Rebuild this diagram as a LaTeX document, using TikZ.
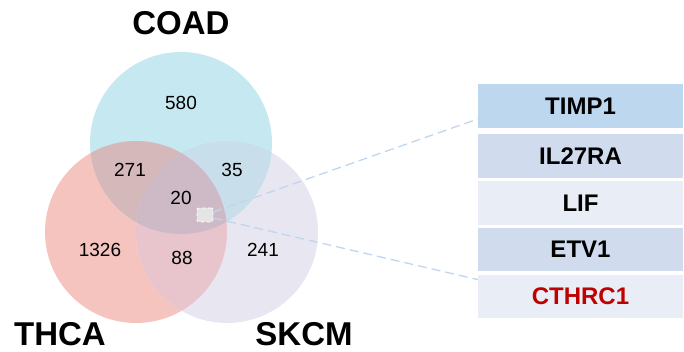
\documentclass[tikz,border=0pt]{standalone}
\usepackage{fontspec}
\setmainfont{Liberation Sans}
\usetikzlibrary{positioning}

\definecolor{coadblue}{RGB}{198,232,240}
\definecolor{thcared}{RGB}{245,196,190}
\definecolor{skcmgray}{RGB}{232,230,240}
\definecolor{coadthca}{RGB}{212,184,186}
\definecolor{coadskcm}{RGB}{200,222,234}
\definecolor{thcaskcm}{RGB}{232,196,205}
\definecolor{allthree}{RGB}{206,186,198}
\definecolor{genetop}{RGB}{189,215,238}
\definecolor{genemid}{RGB}{208,220,238}
\definecolor{genelow}{RGB}{233,237,245}
\definecolor{linkblue}{RGB}{192,214,238}
\definecolor{genered}{RGB}{192,0,0}

\tikzset{
  venn/.style={circle, minimum size=182pt, inner sep=0pt},
  count/.style={anchor=base, font=\fontsize{19}{19}\selectfont},
  setlabel/.style={anchor=base, font=\fontsize{33}{33}\selectfont\bfseries},
  gene/.style={minimum width=205pt, minimum height=43.5pt, inner sep=0pt,
    font=\fontsize{24}{24}\selectfont\bfseries},
  link/.style={draw=linkblue, line width=1.3pt, dash pattern=on 9pt off 5pt}
}

\begin{document}
\begin{tikzpicture}[x=1pt, y=-1pt]
  \useasboundingbox (0,0) rectangle (684,352);

  % The three sets
  \node[venn, fill=thcared] (thca) at (136,232) {};
  \node[venn, fill=skcmgray] (skcm) at (227,232) {};
  \node[venn, fill=coadblue] (coad) at (181,143) {};

  % Pairwise overlaps
  \begin{scope}
    \clip (coad.center) circle (91pt);
    \fill[coadthca] (thca.center) circle (91pt);
  \end{scope}
  \begin{scope}
    \clip (coad.center) circle (91pt);
    \fill[coadskcm] (skcm.center) circle (91pt);
  \end{scope}
  \begin{scope}
    \clip (thca.center) circle (91pt);
    \fill[thcaskcm] (skcm.center) circle (91pt);
  \end{scope}

  % Common to all three
  \begin{scope}
    \clip (coad.center) circle (91pt);
    \clip (thca.center) circle (91pt);
    \fill[allthree] (skcm.center) circle (91pt);
  \end{scope}

  % Set names
  \node[setlabel] (coadname) at (181,35) {COAD};
  \node[setlabel] (thcaname) at (60,345) {THCA};
  \node[setlabel] (skcmname) at (304,345) {SKCM};

  % Counts
  \node[count] (n580) at (181,110) {580};
  \node[count] (n271) at (130,177) {271};
  \node[count] (n35) at (232,177) {35};
  \node[count] (n20) at (181,205) {20};
  \node[count] (n1326) at (100,257) {1326};
  \node[count] (n88) at (182,265) {88};
  \node[count] (n241) at (263,257) {241};

  % Marked spot in the centre
  \node[draw=white, fill=black!10, dashed, rounded corners=2pt, line width=0.8pt,
    minimum width=16pt, minimum height=14pt, inner sep=0pt] (spot) at (205,215) {};

  % Gene list
  \node[gene, fill=genetop] (timp) at (580.5,106) {TIMP1};
  \node[gene, fill=genemid, below=6pt of timp] (il27ra) {IL27RA};
  \node[gene, fill=genelow, below=3pt of il27ra] (lif) {LIF};
  \node[gene, fill=genemid, below=3pt of lif] (etv) {ETV1};
  \node[gene, fill=genelow, text=genered, below=3pt of etv] (cthrc) {CTHRC1};

  % Zoom lines
  \draw[link] ([yshift=3pt]spot.east) -- ([yshift=-13pt]timp.west);
  \draw[link] ([yshift=-3pt]spot.east) -- ([yshift=17pt]cthrc.west);

\end{tikzpicture}
\end{document}
